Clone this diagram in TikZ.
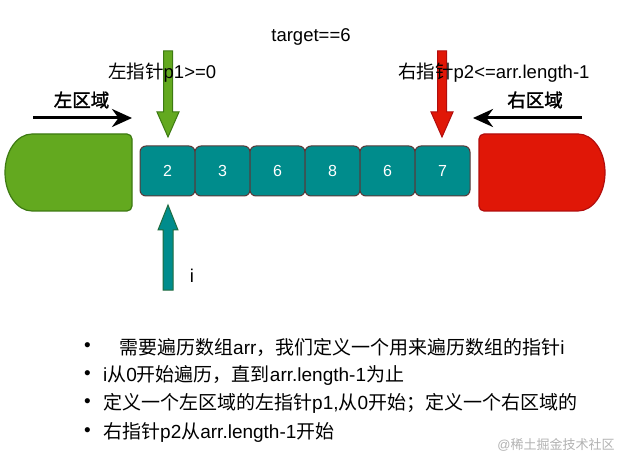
\documentclass[tikz,border=0pt]{standalone}
\usepackage{fontspec}
\setmainfont{Liberation Sans}
\newfontfamily\cjk{Noto Sans CJK SC}
\newfontfamily\cjkb[FakeBold=1.6]{Noto Sans CJK SC}
\newcommand\zh[1]{{\cjk #1}}
\newcommand\zhb[1]{{\cjkb #1}}
\usetikzlibrary{arrows.meta}
\definecolor{greenF}{HTML}{63A91F}
\definecolor{greenD}{HTML}{3D7A12}
\definecolor{redF}{HTML}{E01707}
\definecolor{redD}{HTML}{B20D0D}
\definecolor{tealF}{HTML}{008C8C}
\definecolor{cellD}{HTML}{5A3838}
\definecolor{tealD}{HTML}{1F6B3F}
\tikzset{
  lbl/.style={inner sep=0pt, font=\fontsize{18.5}{22}\selectfont},
  bul/.style={inner sep=0pt, anchor=west, font=\fontsize{19}{22}\selectfont},
  cell/.style={draw=cellD, line width=1pt, fill=tealF, rounded corners=6pt,
    minimum width=55pt, minimum height=50pt, inner sep=0pt, text=white,
    font=\fontsize{16}{18}\selectfont},
  greenshape/.style={fill=greenF, draw=greenD, line width=1.2pt},
  redshape/.style={fill=redF, draw=redD, line width=1.2pt},
  barrow/.style={line width=3pt, -{Stealth[length=20pt,width=18pt]}},
}
\begin{document}
\begin{tikzpicture}[x=1pt,y=1pt]
\useasboundingbox (0,0) rectangle (629,-465);
\fill[white] (0,0) rectangle (629,-465);

% left (green) and right (red) regions
\path[greenshape] (32,-134) -- (127,-134) arc[start angle=90,end angle=0,radius=5]
  -- (132,-206) arc[start angle=0,end angle=-90,radius=5]
  -- (32,-211) arc[start angle=270,end angle=90,x radius=27,y radius=38.5] -- cycle;
\path[redshape] (484,-134) -- (578,-134) arc[start angle=90,end angle=-90,x radius=27,y radius=38.5]
  -- (484,-211) arc[start angle=270,end angle=180,radius=5]
  -- (479,-139) arc[start angle=180,end angle=90,radius=5] -- cycle;

% array cells
\node[cell] (c1) at (167.5,-171) {2};
\node[cell] (c2) at (222.5,-171) {3};
\node[cell] (c3) at (277.5,-171) {6};
\node[cell] (c4) at (332.5,-171) {8};
\node[cell] (c5) at (387.5,-171) {6};
\node[cell] (c6) at (442.5,-171) {7};

% block arrows
\path[fill=greenF, draw=greenD, line width=1pt]
  (163.5,-51) -- (172.5,-51) -- (172.5,-112) -- (179,-112) -- (168,-137)
  -- (157,-112) -- (163.5,-112) -- cycle;
\path[fill=redF, draw=redD, line width=1pt]
  (437.5,-51) -- (446.5,-51) -- (446.5,-112) -- (453,-112) -- (442,-137)
  -- (431,-112) -- (437.5,-112) -- cycle;
\path[fill=tealF, draw=tealD, line width=1pt]
  (168,-205) -- (178,-230) -- (173,-230) -- (173,-290) -- (163,-290)
  -- (163,-230) -- (158,-230) -- cycle;

% region arrows
\coordinate (la0) at (33,-118);
\coordinate (la1) at (132,-118);
\coordinate (ra0) at (582,-118);
\coordinate (ra1) at (473,-118);
\draw[barrow] (la0) -- (la1);
\draw[barrow] (ra0) -- (ra1);

% labels
\node[lbl] (tg) at (311,-37) {target==6};
\node[lbl, anchor=west] (p1) at (108,-73) {\zh{左指针}p1>=0};
\node[lbl, anchor=west] (p2) at (398,-73) {\zh{右指针}p2<=arr.length-1};
\node[lbl] (lq) at (81.5,-100) {\zhb{左区域}};
\node[lbl] (rq) at (535,-100) {\zhb{右区域}};
\node[lbl] (iv) at (192,-276) {i};

% bullet list
\foreach \yy in {347,375,403,432} {\node[bul] at (84,-\yy) {\textbullet};}
\node[bul] (b1) at (119,-347) {\zh{需要遍历数组}arr\zh{，我们定义一个用来遍历数组的指针}i};
\node[bul] (b2) at (103,-375) {i\zh{从}0\zh{开始遍历，直到}arr.length-1\zh{为止}};
\node[bul] (b3) at (103,-403) {\zh{定义一个左区域的左指针}p1,\zh{从}0\zh{开始；定义一个右区域的}};
\node[bul] (b4) at (103,-432) {\zh{右指针}p2\zh{从}arr.length-1\zh{开始}};

% watermark
\node[inner sep=0pt, text=black!30, font=\fontsize{13}{15}\selectfont] (wm) at (556,-445) {@\zh{稀土掘金技术社区}};
\end{tikzpicture}
\end{document}
